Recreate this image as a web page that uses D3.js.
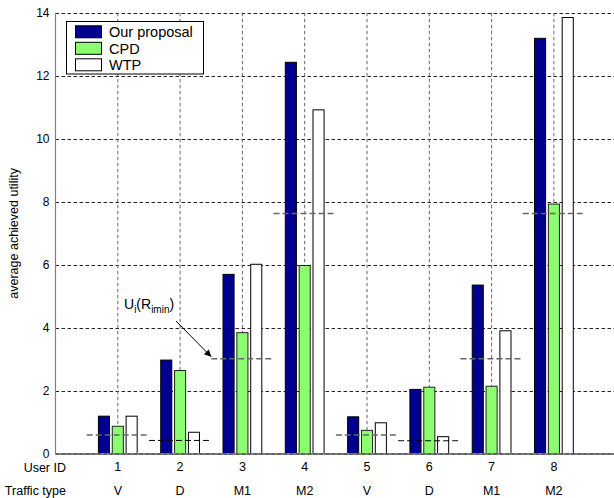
<!DOCTYPE html>
<html>
<head>
<meta charset="utf-8">
<script src="https://cdn.jsdelivr.net/npm/d3@7"></script>
<style>
  html, body { margin: 0; padding: 0; background: #fff; }
  svg { display: block; }
  text { font-family: "Liberation Sans", Arial, Helvetica, sans-serif; fill: #000; }
</style>
</head>
<body>
<svg id="chart" width="614" height="498"></svg>
<script>
// Per-user data
const userIds = [1, 2, 3, 4, 5, 6, 7, 8];
const trafficTypes = ["V", "D", "M1", "M2", "V", "D", "M1", "M2"];
const seriesNames = ["Our proposal", "CPD", "WTP"];
const ourProposal = [1.20, 2.98, 5.70, 12.43, 1.18, 2.05, 5.36, 13.19];
const cpd = [0.88, 2.65, 3.85, 5.98, 0.75, 2.12, 2.15, 7.93];
const wtp = [1.20, 0.69, 6.02, 10.92, 0.99, 0.55, 3.91, 13.85];
// Minimum-rate utility U_i(R_imin) per user
const minUtility = [0.60, 0.43, 3.02, 7.63, 0.60, 0.42, 3.02, 7.63];
const yTicks = [0, 2, 4, 6, 8, 10, 12, 14];

const colors = ["#000090", "#8cff70", "#ffffff"];
const series = [ourProposal, cpd, wtp];

const svg = d3.select("#chart");
const x = d3.scaleLinear().domain([0, 9]).range([55.5, 616.2]);
const y = d3.scaleLinear().domain([0, 14]).range([454, 12.8]);

// Grid (behind bars)
const grid = svg.append("g");
grid.selectAll("line.h").data(yTicks.filter(d => d > 0)).join("line")
  .attr("x1", x(0)).attr("x2", 614)
  .attr("y1", d => Math.round(y(d)) + 0.5).attr("y2", d => Math.round(y(d)) + 0.5)
  .attr("stroke", "#222").attr("stroke-width", 1).attr("stroke-dasharray", "3.5,2.5");
grid.selectAll("line.v").data(userIds).join("line")
  .attr("x1", d => x(d)).attr("x2", d => x(d))
  .attr("y1", y(14)).attr("y2", y(0))
  .attr("stroke", "#666").attr("stroke-width", 1).attr("stroke-dasharray", "3.5,2.5");

// Grouped bars
const barW = 0.1778;
const pitch = 0.2222;
series.forEach((vals, s) => {
  svg.append("g").selectAll("rect").data(vals).join("rect")
    .attr("x", (d, i) => x(userIds[i] + (s - 1) * pitch - barW / 2))
    .attr("width", x(barW) - x(0))
    .attr("y", d => y(d))
    .attr("height", d => y(0) - y(d))
    .attr("fill", colors[s])
    .attr("stroke", s === 1 ? "#222" : "#000")
    .attr("stroke-width", 1);
});

// Minimum-utility dashed markers
svg.append("g").selectAll("line").data(minUtility).join("line")
  .attr("x1", (d, i) => x(userIds[i] - 0.5)).attr("x2", (d, i) => x(userIds[i] + 0.5))
  .attr("y1", d => y(d)).attr("y2", d => y(d))
  .attr("stroke", (d, i) => (trafficTypes[i] === "D" ? "#000" : "#666"))
  .attr("stroke-width", (d, i) => (trafficTypes[i] === "D" ? 1 : 1.5))
  .attr("stroke-dasharray", "6,3");

// Axes
svg.append("line").attr("x1", x(0)).attr("x2", x(0)).attr("y1", y(14)).attr("y2", y(0))
  .attr("stroke", "#808080").attr("stroke-width", 1.2);
svg.append("line").attr("x1", x(0)).attr("x2", 614).attr("y1", y(0)).attr("y2", y(0))
  .attr("stroke", "#808080").attr("stroke-width", 2);
svg.append("line").attr("x1", x(0)).attr("x2", 614).attr("y1", y(0)).attr("y2", y(0))
  .attr("stroke", "#444").attr("stroke-width", 1).attr("stroke-dasharray", "3.5,2.5");

const yAxis = d3.axisLeft(y).tickValues(yTicks).tickSize(0).tickPadding(6);
const yg = svg.append("g").attr("transform", `translate(${x(0)},0)`).call(yAxis);
yg.select(".domain").remove();
yg.selectAll("text").attr("font-size", 12).attr("font-family", "Liberation Sans, Arial, sans-serif").attr("fill", "#000");

// Y label
svg.append("text")
  .attr("transform", `translate(15,${(y(0) + y(14)) / 2}) rotate(-90)`)
  .attr("text-anchor", "middle").attr("dominant-baseline", "middle")
  .attr("font-size", 12.5).text("average achieved utility");

// Category rows
const rowFont = 12.5;
svg.append("text").attr("x", 66).attr("y", 472).attr("text-anchor", "end")
  .attr("font-size", rowFont).text("User ID");
svg.append("text").attr("x", 66).attr("y", 495).attr("text-anchor", "end")
  .attr("font-size", rowFont).text("Traffic type");
svg.append("g").selectAll("text").data(userIds).join("text")
  .attr("x", d => x(d)).attr("y", 471).attr("text-anchor", "middle")
  .attr("font-size", rowFont).text(d => d);
svg.append("g").selectAll("text").data(trafficTypes).join("text")
  .attr("x", (d, i) => x(userIds[i])).attr("y", 495).attr("text-anchor", "middle")
  .attr("font-size", rowFont).text(d => d);

// Annotation
const ann = svg.append("text").attr("x", 124).attr("y", 309).attr("font-size", 14);
ann.append("tspan").text("U");
ann.append("tspan").attr("font-size", 10).attr("dy", 4).text("i");
ann.append("tspan").attr("dy", -4).text("(R");
ann.append("tspan").attr("font-size", 10).attr("dy", 4).text("imin");
ann.append("tspan").attr("dy", -4).text(")");

svg.append("defs").append("marker")
  .attr("id", "arrow").attr("viewBox", "0 0 10 10")
  .attr("refX", 10).attr("refY", 5)
  .attr("markerWidth", 9).attr("markerHeight", 7)
  .attr("markerUnits", "userSpaceOnUse")
  .attr("orient", "auto")
  .append("path").attr("d", "M0,0 L10,5 L0,10 z").attr("fill", "#000");
svg.append("line")
  .attr("x1", 176).attr("y1", 321)
  .attr("x2", x(3 - 0.5)).attr("y2", y(minUtility[2]) - 2)
  .attr("stroke", "#000").attr("stroke-width", 1)
  .attr("marker-end", "url(#arrow)");

// Legend
const lg = svg.append("g");
lg.append("rect").attr("x", 66.5).attr("y", 21.5).attr("width", 137).attr("height", 52.5)
  .attr("fill", "#fff").attr("stroke", "#000").attr("stroke-width", 1);
seriesNames.forEach((name, i) => {
  const cy = 31.8 + i * 16.5;
  lg.append("rect").attr("x", 75.5).attr("y", cy - 6).attr("width", 26).attr("height", 12)
    .attr("fill", colors[i]).attr("stroke", "#000").attr("stroke-width", 1);
  lg.append("text").attr("x", 109).attr("y", cy + 5.2).attr("font-size", 14.5).text(name);
});
</script>
</body>
</html>
